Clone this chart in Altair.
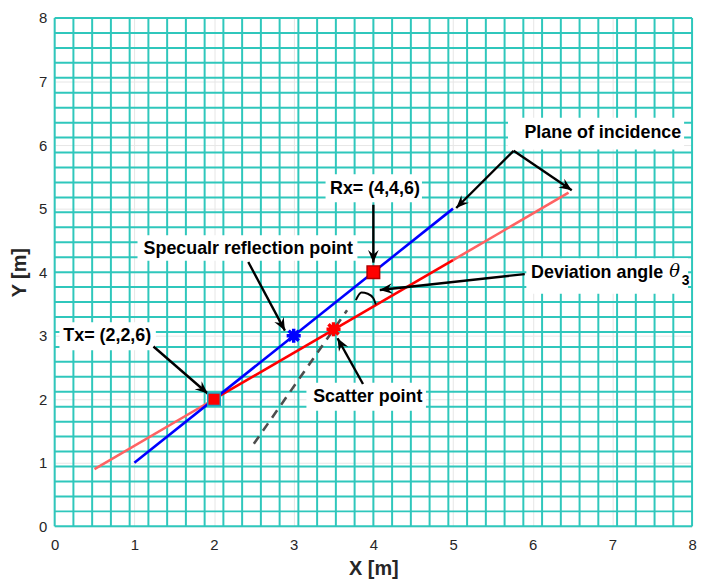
import math
import altair as alt
import pandas as pd

W, H = 642, 512
KX, KY = W / 8.0, H / 8.0

# ---- data ----
plane_seg = ["faint1", "faint1", "solid", "solid", "faint2", "faint2"]
plane_x = [0.5, 2.0, 2.0, 5.0, 5.0, 6.45]
plane_y = [0.90, 2.0, 2.0, 4.19, 4.19, 5.25]

blue_x = [1.0, 5.0]
blue_y = [1.0, 5.0]

dash_x = [2.5, 3.67]
dash_y = [1.3, 3.4]

arc_x = [3.78, 3.85, 3.93, 4.00, 4.03]
arc_y = [3.56, 3.68, 3.66, 3.59, 3.49]

tx_pt = (2.0, 2.0)
rx_pt = (4.0, 4.0)
spec_pt = (3.0, 3.0)
scat_pt = (3.5, 3.1)

labels = ["Plane of incidence", "Rx= (4,4,6)", "Specualr reflection point",
          "Tx= (2,2,6)", "Scatter point"]
label_x = [6.88, 4.02, 2.43, 0.66, 3.93]
label_y = [6.19, 5.31, 4.36, 2.99, 2.04]

box_x1 = [5.69, 3.40, 1.04, 0.06, 3.16, 5.92]
box_x2 = [7.90, 4.61, 3.80, 1.27, 4.66, 7.95]
box_y1 = [5.93, 5.10, 4.18, 2.77, 1.82, 3.66]
box_y2 = [6.43, 5.54, 4.58, 3.21, 2.26, 4.22]

dev_text = "Deviation angle"
dev_x, dev_y = 5.98, 3.98
theta_x, theta_y = 7.78, 4.0
sub_x, sub_y = 7.92, 3.86

arrow_tail_x = [5.76, 5.76, 4.0, 2.43, 1.24, 3.87, 5.90]
arrow_tail_y = [5.91, 5.91, 5.06, 4.16, 2.83, 2.24, 3.97]
arrow_head_x = [5.04, 6.49, 4.0, 2.89, 1.92, 3.55, 4.08]
arrow_head_y = [5.01, 5.29, 4.15, 3.08, 2.09, 2.96, 3.72]

axis_ticks = [0, 1, 2, 3, 4, 5, 6, 7, 8]
grid_pos = [i * 8.0 / 34 for i in range(35)]

# ---- scales / axes ----
xs = alt.Scale(domain=[0, 8], nice=False, zero=False)
ys = alt.Scale(domain=[0, 8], nice=False, zero=False)
AXX = alt.Axis(values=axis_ticks, grid=True, gridColor="#e6e6e6", domain=False,
               ticks=False, labelFontSize=15, labelColor="#262626", labelPadding=11,
               labelFont="Liberation Sans", titleFont="Liberation Sans",
               titleFontSize=20, titleFontWeight="bold", titleColor="#262626",
               titlePadding=7, labelFlush=False)
AXY = alt.Axis(values=axis_ticks, grid=True, gridColor="#e6e6e6", domain=False,
               ticks=False, labelFontSize=15, labelColor="#262626", labelPadding=8,
               labelFont="Liberation Sans", titleFont="Liberation Sans",
               titleFontSize=20, titleFontWeight="bold", titleColor="#262626",
               titlePadding=9, labelFlush=False)
X = lambda f: alt.X(f, type="quantitative", scale=xs, axis=AXX, title="X [m]")
Y = lambda f: alt.Y(f, type="quantitative", scale=ys, axis=AXY, title="Y [m]")

TEAL = "#2fc7bc"
FS = 18

gdf = pd.DataFrame({"g": grid_pos})
vgrid = alt.Chart(gdf).mark_rule(color=TEAL, strokeWidth=2).encode(x=X("g"))
hgrid = alt.Chart(gdf).mark_rule(color=TEAL, strokeWidth=2).encode(y=Y("g"))

pdf = pd.DataFrame({"x": plane_x, "y": plane_y, "seg": plane_seg})
plane_faint = alt.Chart(pdf[pdf.seg != "solid"]).mark_line(color="#ff6262", strokeWidth=2.6).encode(
    x=X("x"), y=Y("y"), detail="seg:N")
plane_solid = alt.Chart(pdf[pdf.seg == "solid"]).mark_line(color="#ff0000", strokeWidth=2.6).encode(
    x=X("x"), y=Y("y"))

blue = alt.Chart(pd.DataFrame({"x": blue_x, "y": blue_y})).mark_line(
    color="#0000ff", strokeWidth=2.6).encode(x=X("x"), y=Y("y"))

dash = alt.Chart(pd.DataFrame({"x": dash_x, "y": dash_y})).mark_line(
    color="#4d4d4d", strokeWidth=2.6, strokeDash=[9, 7]).encode(x=X("x"), y=Y("y"))

arc = alt.Chart(pd.DataFrame({"x": arc_x, "y": arc_y, "o": list(range(len(arc_x)))})).mark_line(
    color="black", strokeWidth=2, interpolate="monotone").encode(x=X("x"), y=Y("y"), order="o:Q")

boxes = alt.Chart(pd.DataFrame({"x1": box_x1, "x2": box_x2, "y1": box_y1, "y2": box_y2})).mark_rect(
    color="white").encode(x=X("x1"), x2="x2:Q", y=Y("y1"), y2="y2:Q")

# arrows
rows = []
heads = []
for i in range(len(arrow_tail_x)):
    rows.append({"a": i, "x": arrow_tail_x[i], "y": arrow_tail_y[i]})
    rows.append({"a": i, "x": arrow_head_x[i], "y": arrow_head_y[i]})
    dx = (arrow_head_x[i] - arrow_tail_x[i]) * KX
    dy = (arrow_head_y[i] - arrow_tail_y[i]) * KY
    ang = math.degrees(math.atan2(dx, dy)) % 360
    heads.append({"x": arrow_head_x[i], "y": arrow_head_y[i], "ang": ang})
arrow_lines = alt.Chart(pd.DataFrame(rows)).mark_line(color="black", strokeWidth=2.4).encode(
    x=X("x"), y=Y("y"), detail="a:N")
arrow_heads = alt.Chart(pd.DataFrame(heads)).mark_point(
    shape="M0,0 L0.55,1.3 L0,0.85 L-0.55,1.3 Z", filled=True, color="black", size=380, opacity=1
).encode(x=X("x"), y=Y("y"), angle=alt.Angle("ang:Q", scale=None))

# markers
tx = alt.Chart(pd.DataFrame({"x": [tx_pt[0]], "y": [tx_pt[1]]})).mark_point(
    shape="square", filled=True, fill="#ff0000", stroke="#1aa6c4", strokeWidth=1.5, size=160, opacity=1
).encode(x=X("x"), y=Y("y"))
rx = alt.Chart(pd.DataFrame({"x": [rx_pt[0]], "y": [rx_pt[1]]})).mark_point(
    shape="square", filled=True, fill="#ff0000", stroke="#b00000", strokeWidth=1.5, size=160, opacity=1
).encode(x=X("x"), y=Y("y"))
AST = "M-1,0L1,0M0,-1L0,1M-0.72,-0.72L0.72,0.72M-0.72,0.72L0.72,-0.72"
spec = alt.Chart(pd.DataFrame({"x": [spec_pt[0]], "y": [spec_pt[1]]})).mark_point(
    shape=AST, color="#0000ff", strokeWidth=3.5, size=200, opacity=1).encode(x=X("x"), y=Y("y"))
scat = alt.Chart(pd.DataFrame({"x": [scat_pt[0]], "y": [scat_pt[1]]})).mark_point(
    shape=AST, color="#ff0000", strokeWidth=3.5, size=200, opacity=1).encode(x=X("x"), y=Y("y"))

texts = alt.Chart(pd.DataFrame({"t": labels, "x": label_x, "y": label_y})).mark_text(
    font="Liberation Sans", fontSize=FS, fontWeight="bold", color="black", align="center",
    baseline="middle").encode(x=X("x"), y=Y("y"), text="t:N")
dev = alt.Chart(pd.DataFrame({"t": [dev_text], "x": [dev_x], "y": [dev_y]})).mark_text(
    font="Liberation Sans", fontSize=FS, fontWeight="bold", color="black", align="left",
    baseline="middle").encode(x=X("x"), y=Y("y"), text="t:N")
theta = alt.Chart(pd.DataFrame({"t": ["θ"], "x": [theta_x], "y": [theta_y]})).mark_text(
    font="DejaVu Serif", fontSize=18, fontStyle="italic", color="black", align="center",
    baseline="middle").encode(x=X("x"), y=Y("y"), text="t:N")
sub = alt.Chart(pd.DataFrame({"t": ["3"], "x": [sub_x], "y": [sub_y]})).mark_text(
    font="Liberation Sans", fontSize=14, fontWeight="bold", color="black", align="center",
    baseline="middle").encode(x=X("x"), y=Y("y"), text="t:N")

chart = alt.layer(
    vgrid, hgrid, plane_faint, plane_solid, blue, dash, arc, boxes,
    arrow_lines, arrow_heads, tx, rx, spec, scat, texts, dev, theta, sub
).properties(
    width=W, height=H,
    autosize=alt.AutoSizeParams(type="none"),
    padding={"left": 47, "top": 8, "right": 8, "bottom": 52},
).configure_view(stroke=None)

chart.save("out.html", embed_options={"renderer": "svg", "actions": False})
